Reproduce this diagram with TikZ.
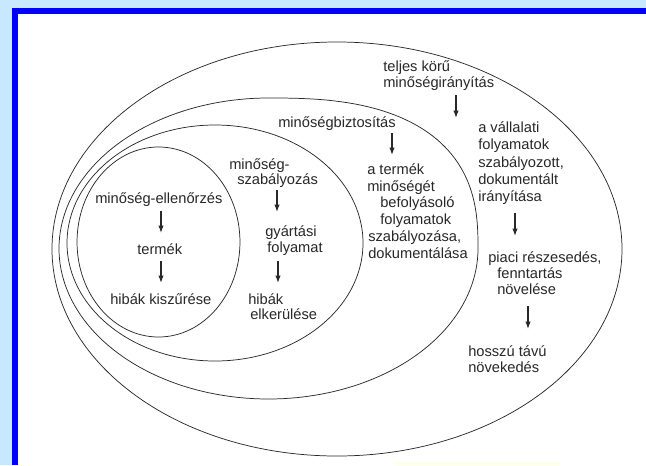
\documentclass[tikz,border=0pt]{standalone}
\usepackage{fontspec}
\setmainfont{Liberation Sans}
\usetikzlibrary{arrows.meta}
\definecolor{bgblue}{RGB}{200,232,255}
\definecolor{frameblue}{RGB}{0,0,250}
\definecolor{ink}{RGB}{40,40,40}
\definecolor{paleyellow}{RGB}{255,255,226}
\begin{document}
\begin{tikzpicture}[x=0.75pt,y=-0.75pt,
  txt/.style={anchor=base west,inner sep=0pt,font=\fontsize{11}{13}\selectfont,text=ink},
  ring/.style={draw=ink,line width=0.55pt},
  arr/.style={draw=ink,line width=0.9pt,-{Latex[length=5.5pt,width=4pt]}}]
\useasboundingbox (0,0) rectangle (646,465);
% frame
\fill[bgblue] (0,0) rectangle (646,465);
\fill[frameblue] (12,8) rectangle (646,465);
\fill[white] (18,14) rectangle (646,465);
\fill[paleyellow] (395,462) rectangle (560,465);
% rings
\draw[ring] (337,249) ellipse [x radius=213.75pt, y radius=155.25pt];
\draw[ring] plot[domain=0.5:89.5,samples=45] ({268.5+209.5*pow(cos(\x),0.77)},{248.5-150.5*pow(sin(\x),0.77)})
  -- plot[domain=90:360,samples=136] ({268.5+209.5*cos(\x)},{248.5-150.5*sin(\x)}) -- cycle;
\draw[ring] (215,243) ellipse [x radius=111pt, y radius=88.5pt];
\draw[ring] (158.5,242) ellipse [x radius=61.1pt, y radius=71.25pt];
% inner circle texts
\node[txt] (i1) at (95,203) {minőség-ellenőrzés};
\node[txt] (i2) at (137,254) {termék};
\node[txt] (i3) at (110,304) {hibák kiszűrése};
% szabályozás
\node[txt] (s1) at (229,169) {minőség-};
\node[txt] (s2) at (237,184) {szabályozás};
\node[txt] (s3) at (265,236) {gyártási};
\node[txt] (s4) at (267,252) {folyamat};
\node[txt] (s5) at (248,304) {hibák};
\node[txt] (s6) at (250,319) {elkerülése};
% biztosítás
\node[txt] (b1) at (278,127) {minőségbiztosítás};
\node[txt] (b2) at (367,174) {a termék};
\node[txt] (b3) at (367,191) {minőségét};
\node[txt] (b4) at (380,207) {befolyásoló};
\node[txt] (b5) at (380,224) {folyamatok};
\node[txt] (b6) at (368,241) {szabályozása,};
\node[txt] (b7) at (368,258) {dokumentálása};
% teljes körű
\node[txt] (t1) at (383,71) {teljes körű};
\node[txt] (t2) at (383,87) {minőségirányítás};
\node[txt] (t3) at (478,132) {a vállalati};
\node[txt] (t4) at (478,149) {folyamatok};
\node[txt] (t5) at (478,167) {szabályozott,};
\node[txt] (t6) at (478,184) {dokumentált};
\node[txt] (t7) at (478,201) {irányítása};
\node[txt] (t8) at (488,262) {piaci részesedés,};
\node[txt] (t9) at (497,278) {fenntartás};
\node[txt] (t10) at (497,294) {növelése};
\node[txt] (t11) at (468,356) {hosszú távú};
\node[txt] (t12) at (468,372) {növekedés};
% arrow ends
\coordinate (ai1) at (161,211); \coordinate (ai2) at (161,233);
\coordinate (ai3) at (161,261); \coordinate (ai4) at (161,283);
\coordinate (as1) at (277,190); \coordinate (as2) at (277,212);
\coordinate (as3) at (278,261); \coordinate (as4) at (278,283);
\coordinate (ab1) at (392,133); \coordinate (ab2) at (392,155);
\coordinate (at1) at (456,95);  \coordinate (at2) at (456,118);
\coordinate (at3) at (515,213); \coordinate (at4) at (515,236);
\coordinate (at5) at (528,306); \coordinate (at6) at (528,329);
\draw[arr] (ai1) -- (ai2);
\draw[arr] (ai3) -- (ai4);
\draw[arr] (as1) -- (as2);
\draw[arr] (as3) -- (as4);
\draw[arr] (ab1) -- (ab2);
\draw[arr] (at1) -- (at2);
\draw[arr] (at3) -- (at4);
\draw[arr] (at5) -- (at6);
\end{tikzpicture}
\end{document}
